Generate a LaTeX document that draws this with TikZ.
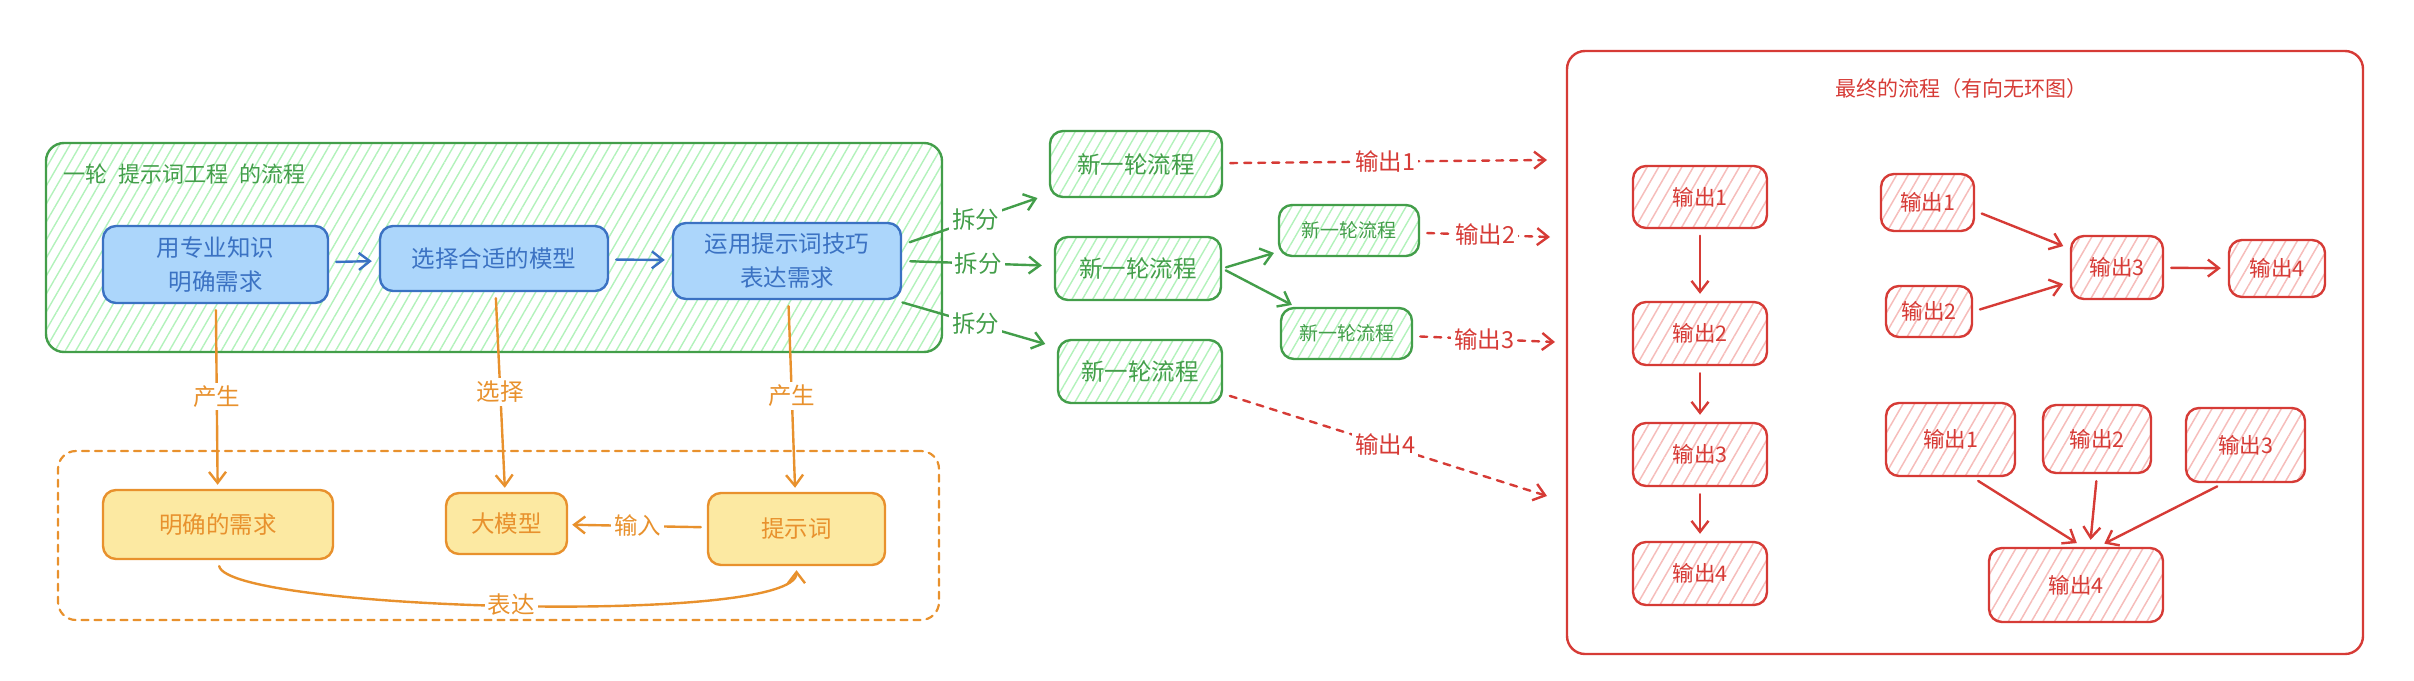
\documentclass[tikz,border=0pt]{standalone}
\usepackage{fontspec}
\usepackage{tikz}
\usetikzlibrary{arrows.meta,patterns.meta}
\newfontfamily\cjkfont{Noto Sans CJK SC}
\definecolor{excgreen}{HTML}{439E4A}
\definecolor{exchatchg}{HTML}{B2F2BB}
\definecolor{excblue}{HTML}{3B72C3}
\definecolor{excbluefill}{HTML}{ACD6FB}
\definecolor{excorange}{HTML}{E8912D}
\definecolor{excyellow}{HTML}{FCE9A2}
\definecolor{excred}{HTML}{D63B36}
\definecolor{exchatchr}{HTML}{F6BDBB}

\begin{document}
\begin{tikzpicture}[x=1pt,y=-1pt,font=\cjkfont\fontsize{23.5}{34}\selectfont,
base/.style={line width=2.4pt,rounded corners=13pt,align=center,inner sep=0pt},
ghatch/.style={base,draw=excgreen,text=excgreen,pattern={Lines[angle=60,distance=9pt,line width=1.4pt]},pattern color=exchatchg},
bbox/.style={base,draw=excblue,fill=excbluefill,text=excblue},
ybox/.style={base,draw=excorange,fill=excyellow,text=excorange},
rbox/.style={base,draw=excred,text=excred,pattern={Lines[angle=60,distance=10pt,line width=1.5pt]},pattern color=exchatchr,font=\cjkfont\fontsize{21.5}{26}\selectfont},
smalltxt/.style={font=\cjkfont\fontsize{19}{23}\selectfont},
lbl/.style={fill=white,inner sep=3pt},
tip/.style={-{Straight Barb[length=11pt,width=17pt]},line width=2.4pt,line cap=round,line join=round},
barr/.style={tip,draw=excblue,shorten <=7pt,shorten >=7pt},
oarr/.style={tip,draw=excorange,text=excorange,shorten <=6pt,shorten >=4pt},
garr/.style={tip,draw=excgreen,text=excgreen,shorten <=8pt,shorten >=12pt},
rarr/.style={tip,draw=excred,text=excred,shorten <=7pt,shorten >=7pt},
rdash/.style={rarr,dash pattern=on 7pt off 7pt}]
\useasboundingbox(0,0)rectangle(2414,680);

\node[ghatch,rounded corners=18pt,minimum width=896,minimum height=209](grp)at(494,247.5){};
\node[anchor=west,text=excgreen,font=\cjkfont\fontsize{22}{26}\selectfont](grptitle)at(60,174){一轮\enspace 提示词工程\enspace 的流程};
\node[bbox,minimum width=225,minimum height=77](b1)at(215.5,264.5){用专业知识\\明确需求};
\node[bbox,minimum width=228,minimum height=65](b2)at(494,258.5){选择合适的模型};
\node[bbox,minimum width=228,minimum height=76](b3)at(787,261){运用提示词技巧\\表达需求};
\draw[barr](b1)--(b2);\draw[barr](b2)--(b3);

\node[draw=excorange,line width=2.2pt,dash pattern=on 7pt off 6pt,line cap=round,rounded corners=18pt,minimum width=881,minimum height=169](ygrp)at(498.5,535.5){};
\node[ybox,minimum width=230,minimum height=69](y1)at(218,524.5){明确的需求};
\node[ybox,minimum width=121,minimum height=61](y2)at(506.5,523.5){大模型};
\node[ybox,minimum width=177,minimum height=72](y3)at(796.5,529){提示词};
\draw[oarr](b1)--node[lbl]{产生}(y1);
\draw[oarr](b2)--node[lbl]{选择}(y2);
\draw[oarr](b3)--node[lbl]{产生}(y3);
\draw[oarr](y3)--node[lbl]{输入}(y2);
\draw[oarr](y1.south)..controls+(10,50)and+(0,60)..node[lbl]{表达}(y3.south);

\node[ghatch,minimum width=172,minimum height=66](nb1)at(1136,164){新一轮流程};
\node[ghatch,minimum width=166,minimum height=63](nb2)at(1138,268.5){新一轮流程};
\node[ghatch,minimum width=164,minimum height=63](nb3)at(1140,371.5){新一轮流程};
\node[ghatch,smalltxt,minimum width=140,minimum height=51](ns1)at(1349,230.5){新一轮流程};
\node[ghatch,smalltxt,minimum width=131,minimum height=51](ns2)at(1346.5,333.5){新一轮流程};
\draw[garr](b3.8)--node[lbl]{拆分}(nb1);
\draw[garr](b3.east)--node[lbl]{拆分}(nb2);
\draw[garr](b3.-20)--node[lbl]{拆分}(nb3);
\draw[garr,shorten <=4pt,shorten >=4pt](nb2.east)--(ns1);
\draw[garr,shorten <=4pt,shorten >=4pt](nb2.east)--(ns2);

\coordinate(o1)at(1547,160);\coordinate(o2)at(1550,237);
\coordinate(o3)at(1555,342);\coordinate(o4)at(1547,496);
\draw[rdash,shorten >=0pt](nb1)--node[lbl]{输出1}(o1);
\draw[rdash,shorten >=0pt](ns1)--node[lbl]{输出2}(o2);
\draw[rdash,shorten >=0pt](ns2)--node[lbl]{输出3}(o3);
\draw[rdash,shorten >=0pt](nb3.-15)--node[lbl]{输出4}(o4);

\node[draw=excred,line width=2.4pt,rounded corners=18pt,minimum width=796,minimum height=603](fin)at(1965,352.5){};
\node[text=excred,font=\cjkfont\fontsize{21}{26}\selectfont](fintitle)at(1961,89){最终的流程（有向无环图）};
\node[rbox,minimum width=134,minimum height=62](c1)at(1700,197){输出1};
\node[rbox,minimum width=134,minimum height=63](c2)at(1700,333.5){输出2};
\node[rbox,minimum width=134,minimum height=63](c3)at(1700,454.5){输出3};
\node[rbox,minimum width=134,minimum height=63](c4)at(1700,573.5){输出4};
\draw[rarr](c1)--(c2);\draw[rarr](c2)--(c3);\draw[rarr](c3)--(c4);

\node[rbox,minimum width=93,minimum height=57](p1)at(1927.5,202.5){输出1};
\node[rbox,minimum width=86,minimum height=51](p2)at(1929,311.5){输出2};
\node[rbox,minimum width=92,minimum height=63](p3)at(2117,267.5){输出3};
\node[rbox,minimum width=96,minimum height=57](p4)at(2277,268.5){输出4};
\draw[rarr](p1.-10)--(p3);\draw[rarr](p2.east)--(p3);\draw[rarr](p3)--(p4);

\node[rbox,minimum width=129,minimum height=73](q1)at(1950.5,439.5){输出1};
\node[rbox,minimum width=108,minimum height=68](q2)at(2097,439){输出2};
\node[rbox,minimum width=119,minimum height=74](q3)at(2245.5,445){输出3};
\node[rbox,minimum width=174,minimum height=74](q4)at(2076,585){输出4};
\draw[rarr](q1.-60)--(q4.80);\draw[rarr](q2.south)--(q4.70);\draw[rarr](q3.-120)--(q4.60);
\end{tikzpicture}
\end{document}
